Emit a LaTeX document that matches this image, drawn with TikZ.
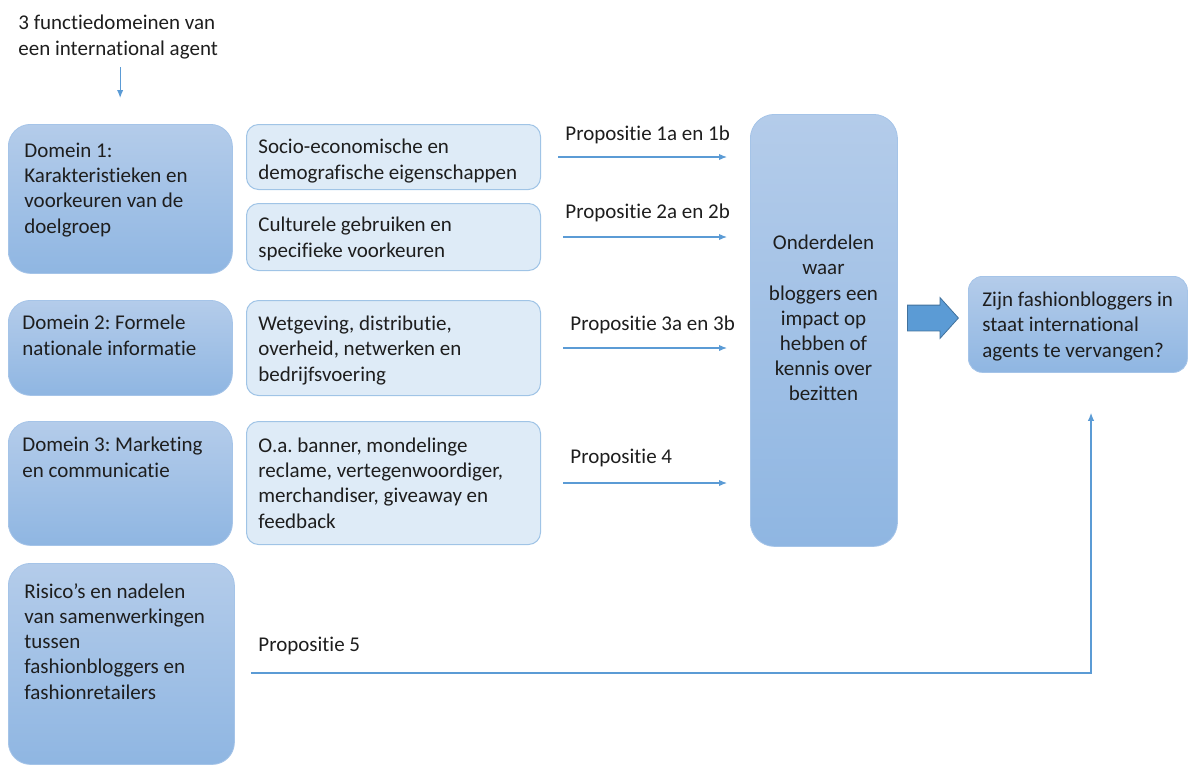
\documentclass[tikz,border=0pt]{standalone}
\usepackage{fontspec}
\setmainfont[Ligatures={NoCommon,NoContextual},Contextuals=NoAlternate]{Carlito}
\usetikzlibrary{positioning,arrows.meta,shapes.arrows}

\definecolor{darktop}{RGB}{180,204,234}
\definecolor{darkbot}{RGB}{143,182,226}
\definecolor{darkline}{RGB}{165,196,232}
\definecolor{lightfill}{RGB}{222,235,247}
\definecolor{lightline}{RGB}{160,196,230}
\definecolor{linkblue}{RGB}{91,155,213}
\definecolor{arrowline}{RGB}{65,113,156}
\definecolor{txtgray}{RGB}{30,30,30}

\frenchspacing
\begin{document}
\begin{tikzpicture}[
    x=0.5pt, y=-0.5pt,
    every node/.style={font=\fontsize{10.5}{12.6}\selectfont, text=txtgray},
    darkbox/.style={draw=darkline, line width=0.4pt, top color=darktop, bottom color=darkbot, rounded corners=11pt, inner sep=0pt, anchor=north west},
    lightbox/.style={draw=lightline, line width=0.5pt, fill=lightfill, rounded corners=6pt, inner sep=0pt, minimum width=147pt, anchor=north west},
    boxtext/.style={align=left, anchor=base west, inner sep=0pt},
    link/.style={draw=linkblue, line width=0.6pt, -{Latex[length=4pt,width=3.2pt]}},
    bigarrow/.style={single arrow, fill=linkblue, draw=arrowline, line width=0.4pt, inner xsep=0pt, inner ysep=6.25pt, minimum height=25.5pt, single arrow head extend=3.75pt, single arrow tip angle=96}
]
\useasboundingbox (0,0) rectangle (1189,767);

% Intro (text nodes are anchored at the baseline of their last line)
\node[boxtext] (intro) at (18,55) {3 functiedomeinen van\\een international agent};

% Domains (left column)
\node[darkbox, minimum width=112pt, minimum height=74.5pt] (dom1) at (8,124) {};
\node[boxtext] (dom1txt) at (24,233) {Domein 1:\\Karakteristieken en\\voorkeuren van de\\doelgroep};

\node[darkbox, minimum width=112pt, minimum height=47.5pt] (dom2) at (8,300) {};
\node[boxtext] (dom2txt) at (22,355) {Domein 2: Formele\\nationale informatie};

\node[darkbox, minimum width=112pt, minimum height=62pt] (dom3) at (8,421) {};
\node[boxtext] (dom3txt) at (22,477) {Domein 3: Marketing\\en communicatie};

\node[darkbox, minimum width=113pt, minimum height=100.5pt] (risico) at (8,563) {};
\node[boxtext] (risicotxt) at (24,699) {Risico’s en nadelen\\van samenwerkingen\\tussen\\fashionbloggers en\\fashionretailers};

% Details (middle column)
\node[lightbox, minimum height=32.5pt] (socio) at (246,124) {};
\node[boxtext] (sociotxt) at (258,179) {Socio-economische en\\demografische eigenschappen};
\node[lightbox, minimum height=33.5pt] (cult) at (246,203) {};
\node[boxtext] (culttxt) at (258,257) {Culturele gebruiken en\\specifieke voorkeuren};
\node[lightbox, minimum height=47.5pt] (wet) at (246,300) {};
\node[boxtext] (wettxt) at (258,381) {Wetgeving, distributie,\\overheid, netwerken en\\bedrijfsvoering};
\node[lightbox, minimum height=61.5pt] (oa) at (246,421) {};
\node[boxtext] (oatxt) at (258,528) {O.a. banner, mondelinge\\reclame, vertegenwoordiger,\\merchandiser, giveaway en\\feedback};

% Impact and question
\node[darkbox, minimum width=73.5pt, minimum height=216pt, rounded corners=12pt] (onder) at (750,114) {};
\node[align=center, inner sep=0pt] (ondertxt) at (823.5,318) {Onderdelen\\waar\\bloggers een\\impact op\\hebben of\\kennis over\\bezitten};

\node[darkbox, minimum width=109.5pt, minimum height=48pt, rounded corners=7pt] (final) at (968,276) {};
\node[boxtext] (finaltxt) at (982,357) {Zijn fashionbloggers in\\staat international\\agents te vervangen?};

\node[bigarrow, anchor=tail] (push) at (907,318) {};

% Labels
\node[boxtext] (lab1) at (565,140) {Propositie 1a en 1b};
\node[boxtext] (lab2) at (565,218) {Propositie 2a en 2b};
\node[boxtext] (lab3) at (570,330) {Propositie 3a en 3b};
\node[boxtext] (lab4) at (570,463) {Propositie 4};
\node[boxtext] (lab5) at (258,651) {Propositie 5};

% Arrows
\draw[link, shorten <=4pt, shorten >=13pt] ([xshift=1pt]intro.south) -- ([xshift=1pt]intro.south |- dom1.north);

\draw[link, shorten <=8.5pt, shorten >=11.5pt] (socio.east) -- (socio.east -| onder.west);
\draw[link, shorten <=11pt, shorten >=11.5pt] (cult.east) -- (cult.east -| onder.west);
\draw[link, shorten <=11pt, shorten >=11.5pt] (wet.east) -- (wet.east -| onder.west);
\draw[link, shorten <=11pt, shorten >=11.5pt] (oa.east) -- (oa.east -| onder.west);

\coordinate (corner) at (1091,673);
\draw[link, shorten <=8pt, shorten >=20pt] (risico.east |- corner) -- (corner) -- (corner |- final.south);

\end{tikzpicture}
\end{document}
